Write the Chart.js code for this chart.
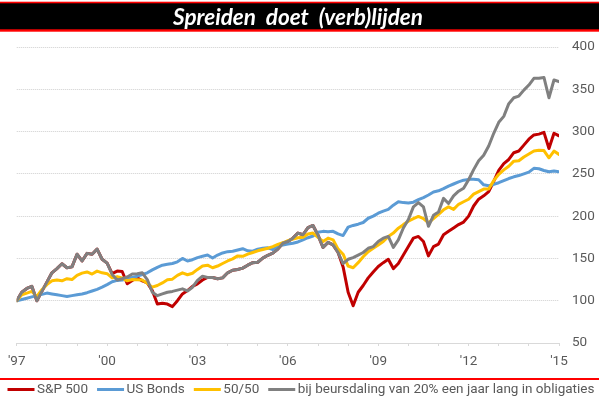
<!DOCTYPE html>
<html><head><meta charset="utf-8">
<script src="https://cdn.jsdelivr.net/npm/chart.js@4"></script>
<style>html,body{margin:0;padding:0;background:#fff;overflow:hidden}canvas{display:block}</style>
</head><body>
<canvas id="c" width="599" height="399"></canvas>
<script>
const chartTitle = 'Spreiden  doet  (verb)lijden';
const seriesNames = ['S&P 500', 'US Bonds', '50/50', 'bij beursdaling van 20% een jaar lang in obligaties'];
const seriesColors = ['#C00000', '#5B9BD5', '#FFC000', '#808080'];
const tickYears = [1997,1998,1999,2000,2001,2002,2003,2004,2005,2006,2007,2008,2009,2010,2011,2012,2013,2014,2015];
const labelYears = [1997, 2000, 2003, 2006, 2009, 2012, 2015];
const labelTexts = ["'97", "'00", "'03", "'06", "'09", "'12", "'15"];
const yTickValues = [50, 100, 150, 200, 250, 300, 350, 400];

const dates = [
'1997-01','1997-03','1997-05','1997-07','1997-09','1997-11',
'1998-01','1998-03','1998-05','1998-07','1998-09','1998-11',
'1999-01','1999-03','1999-05','1999-07','1999-09','1999-11',
'2000-01','2000-03','2000-05','2000-07','2000-09','2000-11',
'2001-01','2001-03','2001-05','2001-07','2001-09','2001-11',
'2002-01','2002-03','2002-05','2002-07','2002-09','2002-11',
'2003-01','2003-03','2003-05','2003-07','2003-09','2003-11',
'2004-01','2004-03','2004-05','2004-07','2004-09','2004-11',
'2005-01','2005-03','2005-05','2005-07','2005-09','2005-11',
'2006-01','2006-03','2006-05','2006-07','2006-09','2006-11',
'2007-01','2007-03','2007-05','2007-07','2007-09','2007-11',
'2008-01','2008-03','2008-05','2008-07','2008-09','2008-11',
'2009-01','2009-03','2009-05','2009-07','2009-09','2009-11',
'2010-01','2010-03','2010-05','2010-07','2010-09','2010-11',
'2011-01','2011-03','2011-05','2011-07','2011-09','2011-11',
'2012-01','2012-03','2012-05','2012-07','2012-09','2012-11',
'2013-01','2013-03','2013-05','2013-07','2013-09','2013-11',
'2014-01','2014-03','2014-05','2014-07','2014-09','2014-11',
'2015-01'];

const sp500 = [
100,110,114.5,117,100,111,
122,133,138,143.7,139,140,
155,147,156,155,161,149,
144.5,132,135,134.5,120,124,
127,123.5,121,112,96,97,
96,93,100,108,112,117,
120,124.5,127.5,127.5,126,127,
133,136,137,138.5,142,145,
145.5,150.4,153.7,156.3,161,168,
170,174,180,178,186.5,189,
177.5,163,169,166,157,140,
110,94,110,118,127,134,
140.5,145,149,138,144,154,
164,174,176,170,153,164,
167,178,182,186,190,193,
200,212,220,224,229,241,
254,262,267,275,277,284,
291,296,297,299,280,298,
295];

const usBonds = [
100,101.5,103,104.5,106,107.5,
109,108,107,106,105,106,
107,108,109.5,111.5,113.5,116,
119,122.5,124,124.5,126,127.5,
129,131,133,136.5,139.5,142,
143,144,146,150,147,148.5,
151,152.5,154,150.5,154,156.5,
158,158.5,160,161.5,159,158.5,
161,162,162.5,160.5,164,166,
167,168,169.5,172,174.5,176.5,
181,182,181.5,182,179,177,
187,189,190.5,192.5,197.5,200,
203.5,206,208,213,217,216,
215.5,216.5,219.5,222,225,228.5,
230,232.5,235.5,238,240.5,242.5,
243.5,243.5,243,237,236,237.5,
239.5,242,244.5,246.5,248,250,
252,256.5,256,254,252.5,253.5,
252.5];

const mix5050 = [
100,107,109,111,105,113,
119,123.5,124.5,123.5,126,125,
130,132.6,134,131.5,135,133,
132,127,128.5,127,123.5,125,
124.7,124.5,120.5,116,118,121,
124.8,125.5,130,133,130.7,132.5,
137,141,142,139,141,144,
147,149.5,153,152.5,155,157,
159,160.5,162,164,166.5,168.5,
171,173,174.5,175,179,180,
175,170,174,172,161,155,
141,139,145,152,158,162,
166,170,176,180,185.8,190,
194,197,199.6,197,192,197,
202,207.5,211,208,214,217,
220,226,229,232,232,242,
249.5,254.7,259,265,265.5,270,
273.5,277,278,277.5,269,277,
273];

const switchStrategy = [
100,110,114.5,117,100,111,
122,133,138,143.7,139,140,
155,147,156,155,161,149,
144.5,131,124.5,126,128,131.5,
132,133,125,110,106,108,
110,111,112.5,114,111.5,116,
124,129,127.5,127.5,126,127,
133,136,137,138.5,142,145,
145.5,150.4,153.7,156.3,161,168,
170,174,180,178,186.5,189,
177.5,163,169,166,157,144,
149,151,154,157,162,164,
170,174,176,163,172,186,
196,211,216,211,188,201,
205,221,215,224,229.5,233,
243,255,265.5,272,283,298,
311,318,333,340,342,349,
355,363,363,364,340,361,
359];

function toYear(s) { const p = s.split('-').map(Number); return p[0] + (p[1] - 1) / 12; }
function points(arr) { return arr.map((v, i) => ({ x: toYear(dates[i]), y: v })); }

const allSeries = [sp500, usBonds, mix5050, switchStrategy];
const drawOrder = [3, 2, 1, 0];

const TEXT_COLOR = '#595959';
const FONT_FAMILY = 'Roboto';

const titlePlugin = {
  id: 'titleBar',
  beforeDraw(chart) {
    const ctx = chart.ctx, W = chart.width;
    ctx.save();
    ctx.fillStyle = '#FF0000';
    ctx.fillRect(0, 1.7, W, 30);
    ctx.fillStyle = '#000000';
    ctx.fillRect(0, 3.3, W, 26);
    ctx.fillStyle = '#FFFFFF';
    ctx.font = 'italic bold 22.5px Lato';
    ctx.textAlign = 'center';
    ctx.textBaseline = 'alphabetic';
    ctx.fillText(chartTitle, 298, 24.5, 252);
    ctx.restore();
  }
};

const legendPlugin = {
  id: 'bottomLegend',
  afterDraw(chart) {
    const ctx = chart.ctx, W = chart.width;
    ctx.save();
    ctx.fillStyle = '#FF0000';
    ctx.fillRect(0, 378, W, 2);
    ctx.font = '13.5px ' + FONT_FAMILY;
    ctx.textBaseline = 'middle';
    ctx.textAlign = 'left';
    let x = 7.5;
    const y = 389.5;
    chart.data.datasets.forEach((ds) => {
      ctx.strokeStyle = ds.borderColor;
      ctx.lineWidth = 3;
      ctx.lineCap = 'butt';
      ctx.beginPath();
      ctx.moveTo(x, y);
      ctx.lineTo(x + 27, y);
      ctx.stroke();
      ctx.fillStyle = TEXT_COLOR;
      ctx.fillText(ds.label, x + 29.5, y);
      x += 29.5 + ctx.measureText(ds.label).width + 9;
    });
    ctx.restore();
  }
};

new Chart(document.getElementById('c').getContext('2d'), {
  type: 'line',
  data: {
    datasets: allSeries.map((arr, i) => ({
      label: seriesNames[i],
      data: points(arr),
      borderColor: seriesColors[i],
      backgroundColor: seriesColors[i],
      order: drawOrder[i],
      fill: false
    }))
  },
  options: {
    responsive: false,
    animation: false,
    devicePixelRatio: 1,
    layout: { padding: { left: 12, right: 0, top: 47, bottom: 31 } },
    elements: {
      point: { radius: 0, hoverRadius: 0 },
      line: { borderWidth: 3, tension: 0, borderJoinStyle: 'round', borderCapStyle: 'round' }
    },
    plugins: { legend: { display: false }, tooltip: { enabled: false }, title: { display: false } },
    scales: {
      x: {
        type: 'linear',
        min: tickYears[0],
        max: tickYears[tickYears.length - 1],
        afterBuildTicks: (s) => { s.ticks = tickYears.map(v => ({ value: v })); },
        ticks: {
          autoSkip: false, maxRotation: 0, minRotation: 0, padding: 8,
          color: TEXT_COLOR, font: { family: FONT_FAMILY, size: 13.5 },
          callback: (v) => { const i = labelYears.indexOf(v); return i >= 0 ? labelTexts[i] : ''; }
        },
        grid: { drawOnChartArea: false, drawTicks: true, tickLength: 3, color: '#d9d9d9' },
        border: { display: true, color: '#d9d9d9', width: 1 },
        afterFit: (s) => { s.height = 25; }
      },
      y: {
        position: 'right',
        min: yTickValues[0],
        max: yTickValues[yTickValues.length - 1],
        afterBuildTicks: (s) => { s.ticks = yTickValues.map(v => ({ value: v })); },
        ticks: { padding: 13, color: TEXT_COLOR, font: { family: FONT_FAMILY, size: 13.5 } },
        grid: {
          drawTicks: false,
          color: (c) => (c.tick && c.tick.value === yTickValues[0]) ? 'rgba(0,0,0,0)' : '#cfcfcf'
        },
        border: { display: false, dash: [1, 1] },
        afterFit: (s) => { s.width = 40; }
      }
    }
  },
  plugins: [titlePlugin, legendPlugin]
});
</script>
</body></html>
